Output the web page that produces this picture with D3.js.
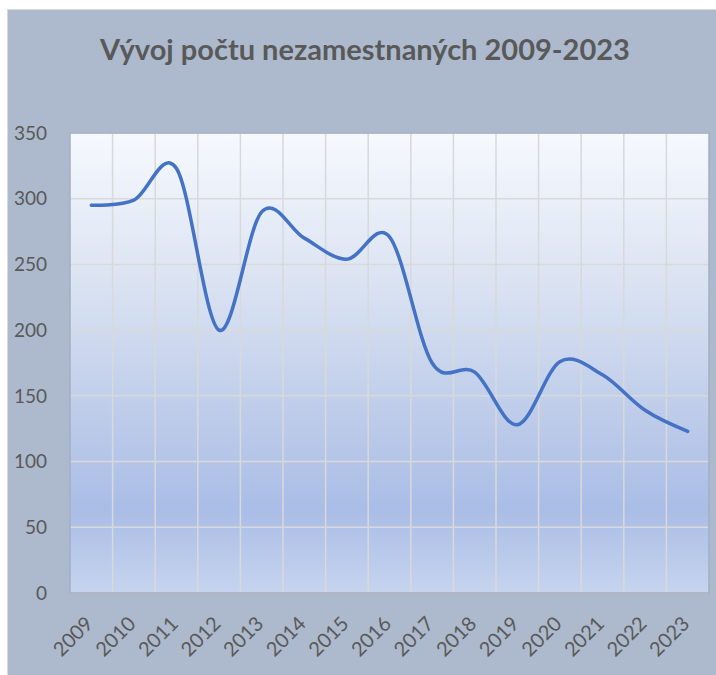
<!DOCTYPE html>
<meta charset="utf-8">
<script src="https://d3js.org/d3.v7.min.js"></script>
<style>
  body { margin: 0; background: #fff; }
</style>
<div id="chart"></div>
<script>
// Data
var years = ["2009","2010","2011","2012","2013","2014","2015","2016","2017","2018","2019","2020","2021","2022","2023"];
var values = [295, 299, 323, 200, 290, 270, 254, 271, 175, 168, 128, 176, 166, 139, 123];
var yTicks = [0, 50, 100, 150, 200, 250, 300, 350];
var title = "Vývoj počtu nezamestnaných 2009-2023";

var W = 716, H = 675;
var margin = {top: 133, right: 7, bottom: 82, left: 70},
    width = W - margin.left - margin.right,
    height = H - margin.top - margin.bottom;

var svg = d3.select("#chart").append("svg")
    .attr("width", W)
    .attr("height", H);

// chart area background
svg.append("rect")
    .attr("x", 7.5).attr("y", 9.5)
    .attr("width", W).attr("height", H)
    .attr("fill", "#adb9cc")
    .attr("stroke", "#d9d9d9");

// gradient for plot area
var grad = svg.append("defs").append("linearGradient")
    .attr("id", "plotGrad")
    .attr("x1", 0).attr("y1", 0).attr("x2", 0).attr("y2", 1);
[["0%", "#f6f9fe"], ["30%", "#dde5f3"], ["60%", "#bfcdea"], ["82%", "#aabde6"], ["100%", "#c6d4ee"]]
  .forEach(function(s) { grad.append("stop").attr("offset", s[0]).attr("stop-color", s[1]); });

svg.append("text")
    .attr("x", 365).attr("y", 60)
    .attr("text-anchor", "middle")
    .style("font-family", "Lato, 'Open Sans', sans-serif")
    .style("font-weight", "bold")
    .style("font-size", "29px")
    .style("fill", "#595959")
    .text(title);

var g = svg.append("g")
    .attr("transform", "translate(" + margin.left + "," + margin.top + ")");

var x = d3.scaleBand().domain(years).range([0, width]);
var y = d3.scaleLinear().domain([0, 350]).range([height, 0]);

g.append("rect")
    .attr("width", width).attr("height", height)
    .attr("fill", "url(#plotGrad)");

// horizontal gridlines
g.selectAll(".hgrid")
  .data(yTicks)
  .enter().append("line")
    .attr("x1", 0).attr("x2", width)
    .attr("y1", function(d) { return y(d); })
    .attr("y2", function(d) { return y(d); })
    .attr("stroke", "#d9d9d9")
    .attr("stroke-width", 1.5);

// vertical gridlines at category boundaries
g.selectAll(".vgrid")
  .data(years.slice(1))
  .enter().append("line")
    .attr("x1", function(d) { return x(d); })
    .attr("x2", function(d) { return x(d); })
    .attr("y1", 0).attr("y2", height)
    .attr("stroke", "#d9d9d9")
    .attr("stroke-width", 1.5);

// plot border
g.append("rect")
    .attr("width", width).attr("height", height)
    .attr("fill", "none")
    .attr("stroke", "#a3aec2")
    .attr("stroke-width", 1.5);

// y labels
g.selectAll(".ylab")
  .data(yTicks)
  .enter().append("text")
    .attr("x", -23)
    .attr("y", function(d) { return y(d); })
    .attr("dy", "0.35em")
    .attr("text-anchor", "end")
    .style("font-family", "Lato, 'Open Sans', sans-serif")
    .style("font-size", "19px")
    .style("fill", "#595959")
    .text(function(d) { return d; });

// x labels
g.selectAll(".xlab")
  .data(years)
  .enter().append("text")
    .attr("transform", function(d) {
      return "translate(" + (x(d) + x.bandwidth() / 2 - 2) + "," + (height + 27) + ")rotate(-45)";
    })
    .attr("dy", "0.35em")
    .attr("text-anchor", "end")
    .style("font-family", "Lato, 'Open Sans', sans-serif")
    .style("font-size", "20px")
    .style("fill", "#595959")
    .text(function(d) { return d; });

// smoothed line
var line = d3.line()
    .x(function(d, i) { return x(years[i]) + x.bandwidth() / 2; })
    .y(function(d) { return y(d); })
    .curve(d3.curveCardinal.tension(0));

g.append("path")
    .datum(values)
    .attr("d", line)
    .attr("fill", "none")
    .attr("stroke", "#4472c4")
    .attr("stroke-width", 3.5)
    .attr("stroke-linecap", "round");
</script>
